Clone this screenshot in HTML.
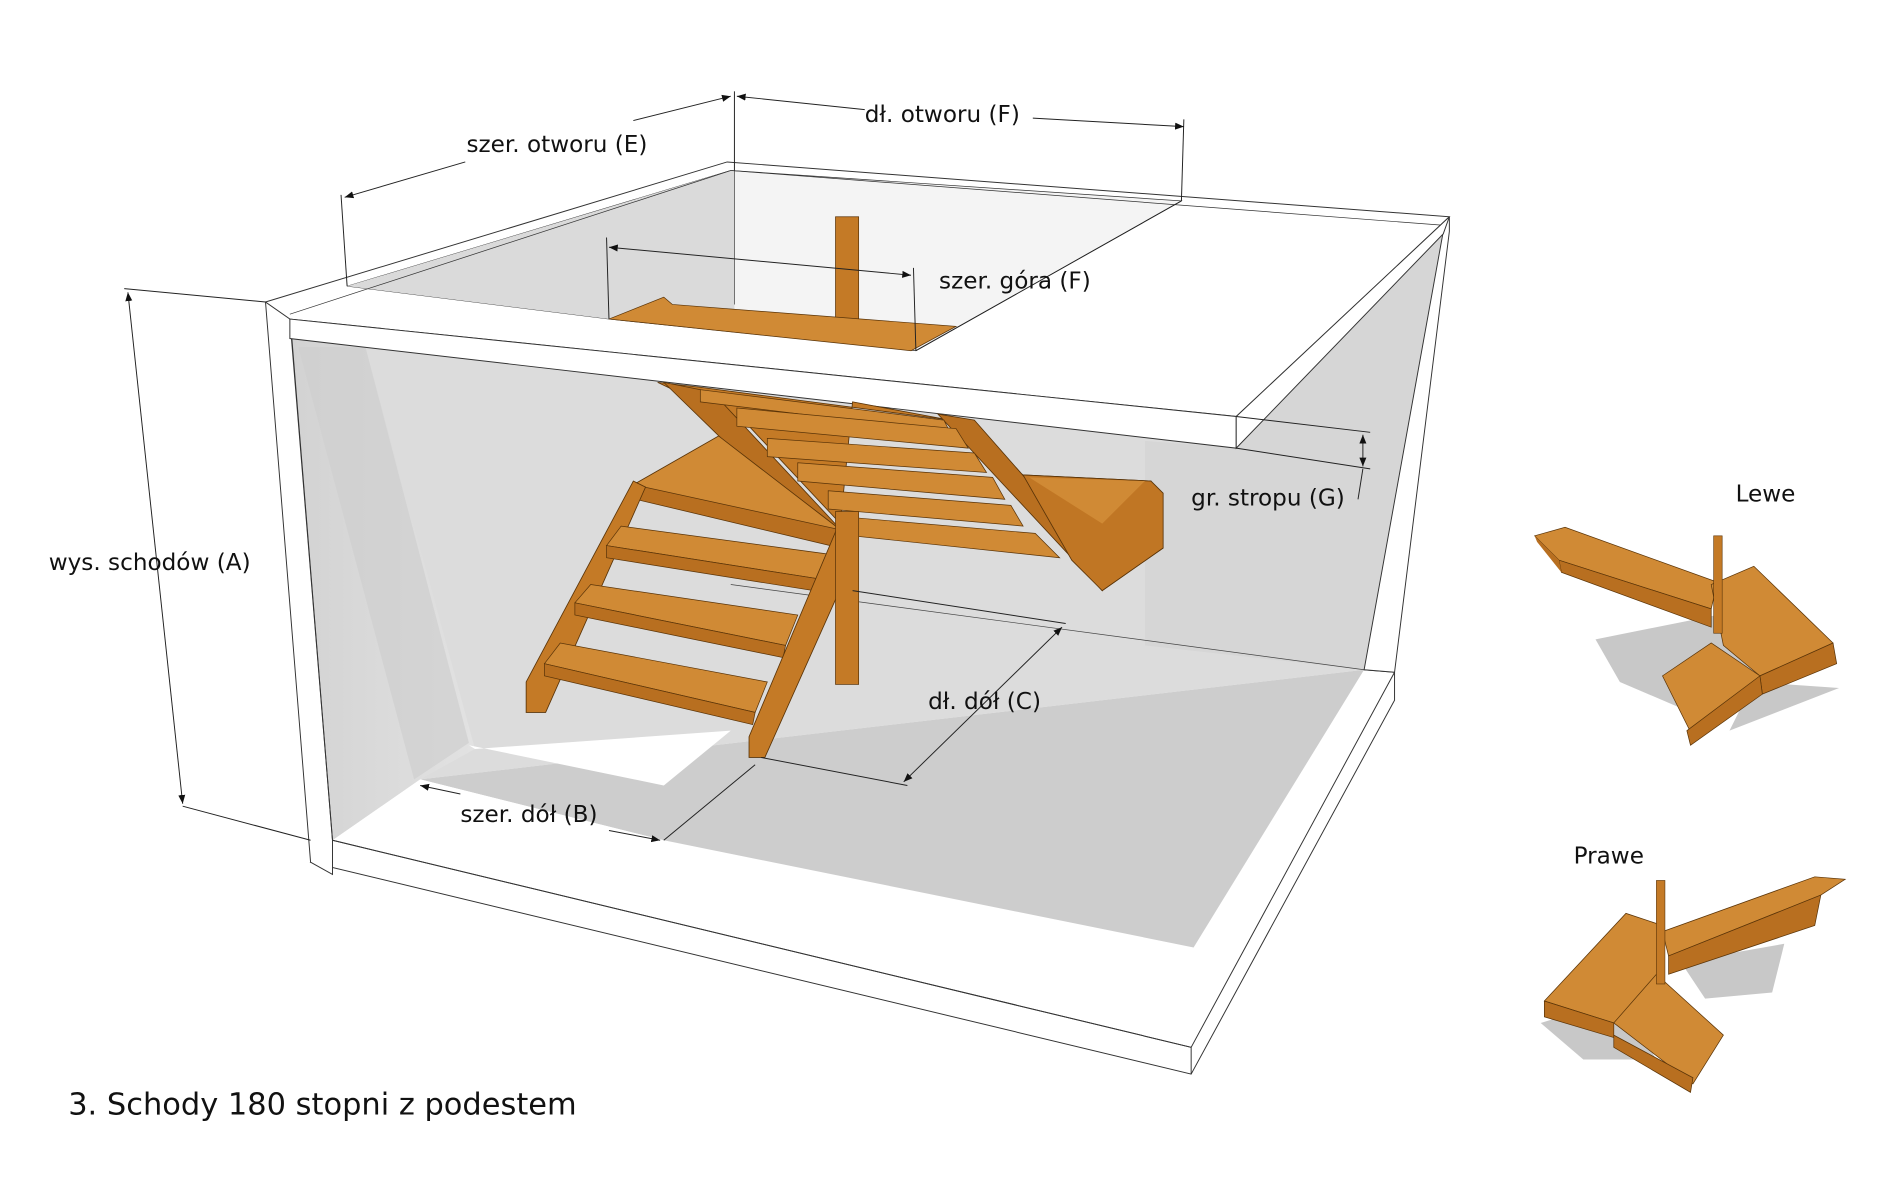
<!DOCTYPE html>
<html><head><meta charset="utf-8"><style>
html,body{margin:0;padding:0;background:#fff;}
svg{display:block;}
text{font-family:"DejaVu Sans","Liberation Sans",sans-serif;fill:#111;}
</style></head><body>
<svg width="1900" height="1191" viewBox="0 0 1560 978" preserveAspectRatio="none" xmlns="http://www.w3.org/2000/svg">
<defs>
<marker id="ar" viewBox="0 0 10 10" refX="10" refY="5" markerWidth="9" markerHeight="9" orient="auto-start-reverse"><path d="M0,1 L10,5 L0,9 z" fill="#111"/></marker>
<linearGradient id="lw" x1="0" y1="0" x2="1" y2="0"><stop offset="0" stop-color="#d2d2d2"/><stop offset="1" stop-color="#e2e2e2"/></linearGradient>
</defs>
<rect width="1560" height="978" fill="#fff"/>
<polygon points="238,278 1015,368 1185,190 1120,550 345,640 273,690" fill="#dcdcdc"/>
<polygon points="238,278 300,285 390,615 345,640 273,690" fill="url(#lw)"/>
<polygon points="245,285 300,285 385,610 340,640" fill="#cfcfcf" opacity="0.7"/>
<polygon points="940,362 1015,368 1185,190 1120,550 940,530" fill="#d6d6d6"/>
<polygon points="345,640 1120,550 980,778 545,690" fill="#cdcdcd"/>
<polygon points="390,615 600,600 545,645 385,612" fill="#fff"/>
<polygon points="273,690 345,640 545,690" fill="#fff"/>
<polygon points="273,690 978,860 1145,552 1145,575 978,882 255,708" fill="#fff" stroke="#333" stroke-width="0.8"/>
<line x1="273" y1="690" x2="978" y2="860" stroke="#333" stroke-width="0.8"/>
<line x1="978" y1="860" x2="978" y2="882" stroke="#333" stroke-width="0.8"/>
<line x1="1120" y1="550" x2="1145" y2="552" stroke="#333" stroke-width="0.8"/>
<line x1="600" y1="480" x2="1120" y2="550" stroke="#444" stroke-width="0.6"/>
<polygon points="218,248 238,258 273,690 273,718 255,708" fill="#fff" stroke="#333" stroke-width="0.8"/>
<line x1="238" y1="262" x2="273" y2="690" stroke="#333" stroke-width="0.8"/>
<polygon points="1185,190 1190,178 1190,190 1145,552 1120,550" fill="#fff" stroke="#333" stroke-width="0.8"/>
<polygon points="218,248 597,133 1190,178 1015,342 238,262" fill="#fff" stroke="#333" stroke-width="0.8"/>
<polygon points="285,235 600,140 970,165 752,288 500,262" fill="#f4f4f4" stroke="#333" stroke-width="0.6"/>
<polygon points="285,235 600,140 603,140 603,255 500,262" fill="#dadada"/>
<line x1="603" y1="140" x2="603" y2="250" stroke="#444" stroke-width="0.6"/>
<line x1="238" y1="258" x2="600" y2="140" stroke="#333" stroke-width="0.6"/>
<line x1="600" y1="140" x2="1185" y2="185" stroke="#333" stroke-width="0.6"/>
<polygon points="238,262 1015,342 1015,368 238,278" fill="#fff" stroke="#333" stroke-width="0.8"/>
<polygon points="1015,342 1190,178 1185,192 1015,368" fill="#fff" stroke="#333" stroke-width="0.8"/>
<rect x="686" y="178" width="19" height="86" fill="#c47a26" stroke="#5a3408" stroke-width="0.6"/>
<polygon points="500,262 545,244 552,250 785,268 748,288" fill="#d08a35" stroke="#5a3408" stroke-width="0.6"/>
<polygon points="540,314 575,318 780,345 905,485 955,450 945,395 840,390 780,345 700,330 690,430 615,350" fill="#c47a26" stroke="#5a3408" stroke-width="0.7"/>
<polygon points="545,314 585,322 695,440 690,455" fill="#b86f20" stroke="#5a3408" stroke-width="0.7"/>
<polygon points="770,340 800,345 910,470 905,485" fill="#b86f20" stroke="#5a3408" stroke-width="0.7"/>
<polygon points="840,390 945,395 955,405 955,450 905,485 880,460" fill="#c07624" stroke="#5a3408" stroke-width="0.7"/>
<polygon points="845,392 940,395 905,430" fill="#d08a35"/>
<g fill="#d08a35" stroke="#5a3408" stroke-width="0.6">
<polygon points="575,320 775,345 780,355 575,330"/>
<polygon points="605,335 785,352 795,368 605,350"/>
<polygon points="630,360 800,372 810,388 630,375"/>
<polygon points="655,380 815,392 825,410 655,395"/>
<polygon points="680,403 830,415 840,432 680,418"/>
<polygon points="700,425 850,438 870,458 700,440"/>
</g>
<polygon points="520,398 590,358 690,435 625,430" fill="#d08a35" stroke="#5a3408" stroke-width="0.7"/>
<polygon points="520,398 690,435 690,450 522,410" fill="#b86f20" stroke="#5a3408" stroke-width="0.6"/>
<polygon points="432,560 520,395 530,400 448,585 432,585" fill="#c47a26" stroke="#5a3408" stroke-width="0.7"/>
<g fill="#d08a35" stroke="#5a3408" stroke-width="0.6">
<polygon points="498,448 510,432 680,455 670,475"/>
<polygon points="498,448 670,475 668,485 498,458" fill="#b86f20"/>
<polygon points="472,495 485,480 655,505 645,530"/>
<polygon points="472,495 645,530 643,540 472,505" fill="#b86f20"/>
<polygon points="447,545 460,528 630,560 620,585"/>
<polygon points="447,545 620,585 618,595 447,555" fill="#b86f20"/>
</g>
<polygon points="615,605 688,432 696,440 696,470 628,622 615,622" fill="#c47a26" stroke="#5a3408" stroke-width="0.7"/>
<rect x="686" y="420" width="19" height="142" fill="#c47a26" stroke="#5a3408" stroke-width="0.6"/>
<g stroke="#222" stroke-width="0.8" fill="none">
<line x1="280" y1="160" x2="285" y2="235"/>
<line x1="603" y1="75" x2="603" y2="140"/>
<line x1="972" y1="98" x2="970" y2="165"/>
<line x1="498" y1="195" x2="500" y2="262"/>
<line x1="750" y1="220" x2="752" y2="288"/>
<line x1="283" y1="162" x2="382" y2="133" marker-start="url(#ar)"/>
<line x1="520" y1="99" x2="600" y2="79" marker-end="url(#ar)"/>
<line x1="605" y1="79" x2="710" y2="90" marker-start="url(#ar)"/>
<line x1="848" y1="97" x2="972" y2="104" marker-end="url(#ar)"/>
<line x1="500" y1="203" x2="748" y2="226" marker-start="url(#ar)" marker-end="url(#ar)"/>
<line x1="752" y1="288" x2="970" y2="165"/>
<line x1="102" y1="237" x2="218" y2="248"/>
<line x1="150" y1="662" x2="255" y2="690"/>
<line x1="105" y1="240" x2="150" y2="660" marker-start="url(#ar)" marker-end="url(#ar)"/>
<line x1="1015" y1="342" x2="1125" y2="355"/>
<line x1="1015" y1="368" x2="1125" y2="385"/>
<line x1="1119" y1="357" x2="1119" y2="383" marker-start="url(#ar)" marker-end="url(#ar)"/>
<line x1="1119" y1="385" x2="1115" y2="410"/>
<line x1="625" y1="622" x2="745" y2="645"/>
<line x1="700" y1="485" x2="875" y2="512"/>
<line x1="742" y1="642" x2="872" y2="515" marker-start="url(#ar)" marker-end="url(#ar)"/>
<line x1="545" y1="690" x2="620" y2="628"/>
<line x1="345" y1="645" x2="378" y2="652" marker-start="url(#ar)"/>
<line x1="500" y1="682" x2="542" y2="690" marker-end="url(#ar)"/>
</g>
<text x="383" y="125" font-size="19">szer. otworu (E)</text>
<text x="710" y="100" font-size="19">dł. otworu (F)</text>
<text x="771" y="237" font-size="19">szer. góra (F)</text>
<text x="978" y="415" font-size="19">gr. stropu (G)</text>
<text x="40" y="468" font-size="19">wys. schodów (A)</text>
<text x="762" y="582" font-size="19">dł. dół (C)</text>
<text x="378" y="675" font-size="19">szer. dół (B)</text>
<text x="1425" y="412" font-size="19">Lewe</text>
<text x="1292" y="709" font-size="19">Prawe</text>
<text x="56" y="915" font-size="25">3. Schody 180 stopni z podestem</text>
<polygon points="1310,525 1410,505 1450,560 1400,590 1330,560" fill="#c8c8c8"/>
<polygon points="1440,560 1510,565 1420,600" fill="#c8c8c8"/>
<polygon points="1260,440 1285,433 1410,478 1405,500 1280,460" fill="#d08a35" stroke="#5a3408" stroke-width="0.6"/>
<polygon points="1280,460 1405,500 1405,515 1282,470" fill="#b86f20" stroke="#5a3408" stroke-width="0.6"/>
<polygon points="1260,440 1280,460 1282,470 1262,445" fill="#b86f20"/>
<polygon points="1405,480 1440,465 1505,528 1445,555 1415,530" fill="#d08a35" stroke="#5a3408" stroke-width="0.6"/>
<polygon points="1445,555 1505,528 1508,545 1447,570" fill="#b86f20" stroke="#5a3408" stroke-width="0.6"/>
<polygon points="1365,555 1405,528 1445,555 1390,605" fill="#d08a35" stroke="#5a3408" stroke-width="0.6"/>
<polygon points="1385,600 1445,555 1447,570 1388,612" fill="#b86f20" stroke="#5a3408" stroke-width="0.6"/>
<rect x="1407" y="440" width="7" height="80" fill="#c47a26" stroke="#5a3408" stroke-width="0.5"/>
<polygon points="1265,840 1330,820 1360,870 1300,870" fill="#c8c8c8"/>
<polygon points="1380,790 1465,775 1455,815 1400,820" fill="#c8c8c8"/>
<polygon points="1365,765 1490,720 1515,722 1495,735 1370,785" fill="#d08a35" stroke="#5a3408" stroke-width="0.6"/>
<polygon points="1370,785 1495,735 1490,760 1370,800" fill="#b86f20" stroke="#5a3408" stroke-width="0.6"/>
<polygon points="1268,822 1335,750 1365,760 1365,800 1325,840" fill="#d08a35" stroke="#5a3408" stroke-width="0.6"/>
<polygon points="1268,822 1325,840 1325,852 1268,835" fill="#b86f20" stroke="#5a3408" stroke-width="0.6"/>
<polygon points="1325,840 1360,800 1415,850 1390,890" fill="#d08a35" stroke="#5a3408" stroke-width="0.6"/>
<polygon points="1325,850 1390,885 1388,897 1325,860" fill="#b86f20" stroke="#5a3408" stroke-width="0.6"/>
<rect x="1360" y="723" width="7" height="85" fill="#c47a26" stroke="#5a3408" stroke-width="0.5"/>
</svg>
</body></html>
